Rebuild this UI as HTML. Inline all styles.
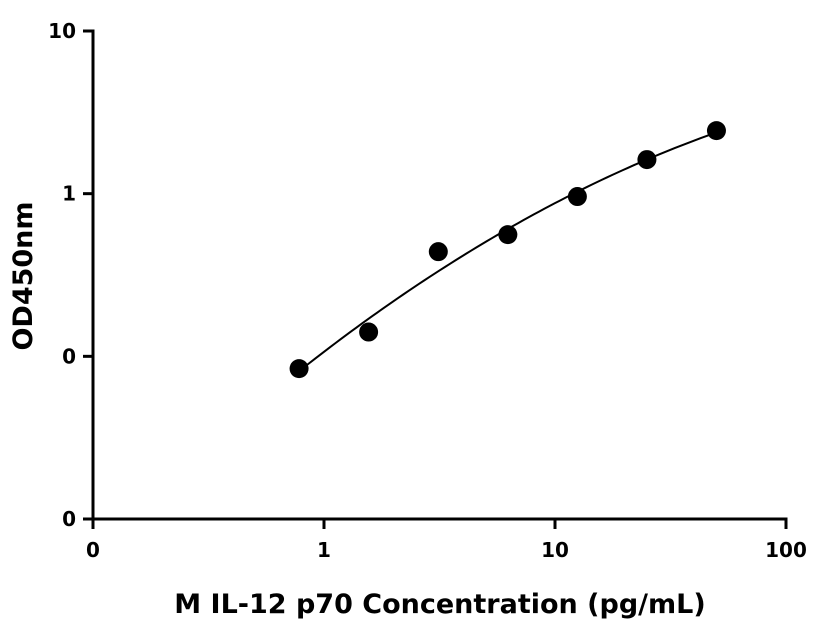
<!DOCTYPE html>
<html><head><meta charset="utf-8"><style>
html,body{margin:0;padding:0;background:#fff;width:816px;height:640px;overflow:hidden}
text{font-family:"DejaVu Sans","Liberation Sans",sans-serif;font-weight:bold;fill:#000}
</style></head><body>
<svg id="chart" width="816" height="640" viewBox="0 0 816 640" xmlns="http://www.w3.org/2000/svg">
<g id="axes"></g>
<g id="marks"></g>
<text x="440" y="613" font-size="27" text-anchor="middle">M IL-12 p70 Concentration (pg/mL)</text>
<text transform="translate(32,276) rotate(-90)" font-size="27" text-anchor="middle">OD450nm</text>
</svg>
<script>
const concentrations=[0.78,1.56,3.125,6.25,12.5,25,50];
const odValues=[0.084,0.141,0.44,0.56,0.96,1.62,2.44];
const xTicks=[0.1,1,10,100];
const xTickLabels=["0","1","10","100"];
const yTicks=[0.01,0.1,1,10];
const yTickLabels=["0","0","1","10"];
const NS="http://www.w3.org/2000/svg";
const X0=93,X1=786,Y0=519,Y1=31;
function xs(v){return X0+(Math.log10(v)+1)/3*(X1-X0);}
function ys(v){return Y0-(Math.log10(v)+2)/3*(Y0-Y1);}
function mk(tag,attrs,parent){const e=document.createElementNS(NS,tag);for(const k in attrs)e.setAttribute(k,attrs[k]);parent.appendChild(e);return e;}
const axes=document.getElementById('axes'),marks=document.getElementById('marks');
let l=mk('line',{x1:X0,y1:Y0,x2:X1+1.5,y2:Y0,stroke:'#000','stroke-width':3},axes);

l=mk('line',{x1:X0,y1:Y0+1.5,x2:X0,y2:Y1-1.5,stroke:'#000','stroke-width':3},axes);

xTicks.forEach((t,i)=>{const x=xs(t);
 const tk=mk('line',{x1:x,y1:Y0,x2:x,y2:Y0+10,stroke:'#000','stroke-width':3},axes);
 
 const tx=mk('text',{x:x,y:Y0+38,'font-size':20,'text-anchor':'middle'},axes);tx.textContent=xTickLabels[i];
 });
yTicks.forEach((t,i)=>{const y=ys(t);
 const tk=mk('line',{x1:X0-10,y1:y,x2:X0,y2:y,stroke:'#000','stroke-width':3},axes);
 
 const tx=mk('text',{x:X0-17,y:y+7,'font-size':20,'text-anchor':'end'},axes);tx.textContent=yTickLabels[i];
 });
// quadratic fit in log-log
const lx=concentrations.map(Math.log10),ly=odValues.map(Math.log10);
function solve(A,b){const n=b.length;for(let i=0;i<n;i++){let p=i;for(let r=i+1;r<n;r++)if(Math.abs(A[r][i])>Math.abs(A[p][i]))p=r;[A[i],A[p]]=[A[p],A[i]];[b[i],b[p]]=[b[p],b[i]];for(let r=i+1;r<n;r++){const f=A[r][i]/A[i][i];for(let c=i;c<n;c++)A[r][c]-=f*A[i][c];b[r]-=f*b[i];}}const x=new Array(n).fill(0);for(let i=n-1;i>=0;i--){let s=b[i];for(let c=i+1;c<n;c++)s-=A[i][c]*x[c];x[i]=s/A[i][i];}return x;}
const S=k=>lx.reduce((a,v)=>a+Math.pow(v,k),0),T=k=>lx.reduce((a,v,i)=>a+Math.pow(v,k)*ly[i],0);
const co=solve([[S(0),S(1),S(2)],[S(1),S(2),S(3)],[S(2),S(3),S(4)]],[T(0),T(1),T(2)]);
let d='';const a=lx[0],b=lx[lx.length-1];
for(let i=0;i<=80;i++){const u=a+(b-a)*i/80;const v=co[0]+co[1]*u+co[2]*u*u;d+=(i?'L':'M')+xs(Math.pow(10,u)).toFixed(2)+' '+ys(Math.pow(10,v)).toFixed(2);}
const p=mk('path',{d:d,fill:'none',stroke:'#000','stroke-width':2},marks);

concentrations.forEach((c,i)=>{const pt=mk('circle',{cx:xs(c),cy:ys(odValues[i]),r:9.5,fill:'#000'},marks);
 });
</script>
</body></html>
